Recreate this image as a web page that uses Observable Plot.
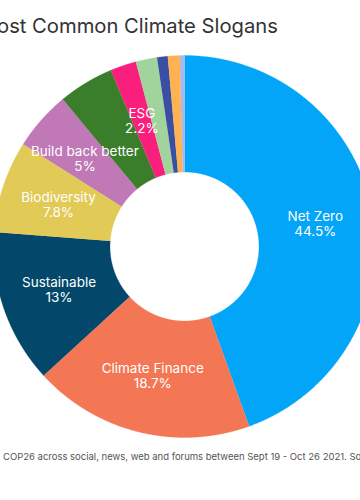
<!DOCTYPE html>
<html><head><meta charset="utf-8">
<script src="https://cdn.jsdelivr.net/npm/d3@7"></script>
<script src="https://cdn.jsdelivr.net/npm/@observablehq/plot@0.6"></script>
<style>
html,body{margin:0;padding:0;background:#fff;}
body{width:360px;height:500px;overflow:hidden;position:relative;font-family:Inter,"Noto Sans",sans-serif;}
#title{position:absolute;white-space:nowrap;color:#333;line-height:1;}
#caption{position:absolute;white-space:nowrap;color:#555;line-height:1;}
#chart{position:absolute;left:-7px;top:55px;width:382px;height:382px;}
#chart svg{max-width:none !important;}
</style></head><body>
<div id="title"></div><div id="chart"></div><div id="caption"></div>
<script>
const titleText = "Most Common Climate Slogans";
const captionText = "COP26 across social, news, web and forums between Sept 19 - Oct 26 2021. Source:";
const categories = ["Net Zero","Climate Finance","Sustainable","Biodiversity","Build back better","Green","ESG","Carbon neutral","Just transition","Clean energy","Other"];
const shares = [44.5,18.7,13,7.8,5,4.7,2.2,1.8,0.9,1.0,0.4];
const colors = ["#03a5f8","#f37754","#03486b","#e2ca56","#c078b6","#3a7d2b","#fa1f7c","#a0d49c","#3a4fa4","#feb251","#a8b8ea"];
const labelled = [true,true,true,true,true,false,true,false,false,false,false];

const FAMILY = 'Inter, "Noto Sans", sans-serif';
const ctx = document.createElement("canvas").getContext("2d");
function measure(t, size){ ctx.font = `${size}px ${FAMILY}`; return ctx.measureText(t).width; }

// Title (left part cropped like reference)
const tEl = document.getElementById("title");
const tVisible = titleText.slice(1);
const tSize = 100 * 281 / measure(tVisible, 100);
tEl.style.fontSize = tSize + "px";
tEl.textContent = titleText;
tEl.style.left = (-3 - measure(titleText[0], tSize)) + "px";
tEl.style.top = (33 - 0.864 * tSize) + "px";

// Caption
const cEl = document.getElementById("caption");
const cFit = captionText.slice(0, captionText.indexOf("2021.") + 5);
const cSize = 100 * 344 / measure(cFit, 100);
cEl.style.fontSize = cSize + "px";
cEl.textContent = captionText;
cEl.style.left = "3px";
cEl.style.top = (460 - 0.864 * cSize) + "px";

// Donut geometry from the data
const R = 1, r0 = 0.39;
const rows = categories.map((name, i) => ({name, value: shares[i], labelled: labelled[i]}));
const arcs = d3.pie().sort(null).value(d => d.value)(rows);
const pts = [];
for (const a of arcs) {
  const n = Math.max(2, Math.ceil((a.endAngle - a.startAngle) / 0.004));
  for (let k = 0; k <= n; k++) {
    const t = a.startAngle + (a.endAngle - a.startAngle) * k / n;
    pts.push({name: a.data.name, x: R * Math.sin(t), y: R * Math.cos(t)});
  }
  for (let k = n; k >= 0; k--) {
    const t = a.startAngle + (a.endAngle - a.startAngle) * k / n;
    pts.push({name: a.data.name, x: r0 * Math.sin(t), y: r0 * Math.cos(t)});
  }
}
const rm = (R + r0) / 2;
const labels = arcs.filter(a => a.data.labelled).map(a => {
  const m = (a.startAngle + a.endAngle) / 2;
  return {x: rm * Math.sin(m), y: rm * Math.cos(m), text: `${a.data.name}\n${a.data.value}%`};
});

const chart = Plot.plot({
  width: 382, height: 382,
  margin: 0,
  x: {domain: [-1, 1], axis: null},
  y: {domain: [-1, 1], axis: null},
  color: {domain: categories, range: colors},
  style: {fontFamily: FAMILY, background: "transparent", overflow: "visible", maxWidth: "none"},
  marks: [
    Plot.line(pts, {x: "x", y: "y", z: "name", fill: "name", stroke: "name", strokeWidth: 0.3, curve: "linear"}),
    Plot.text(labels, {x: "x", y: "y", text: "text", fill: "white", fontSize: 13.5, lineHeight: 1.1})
  ]
});
document.getElementById("chart").appendChild(chart);
</script>
</body></html>
